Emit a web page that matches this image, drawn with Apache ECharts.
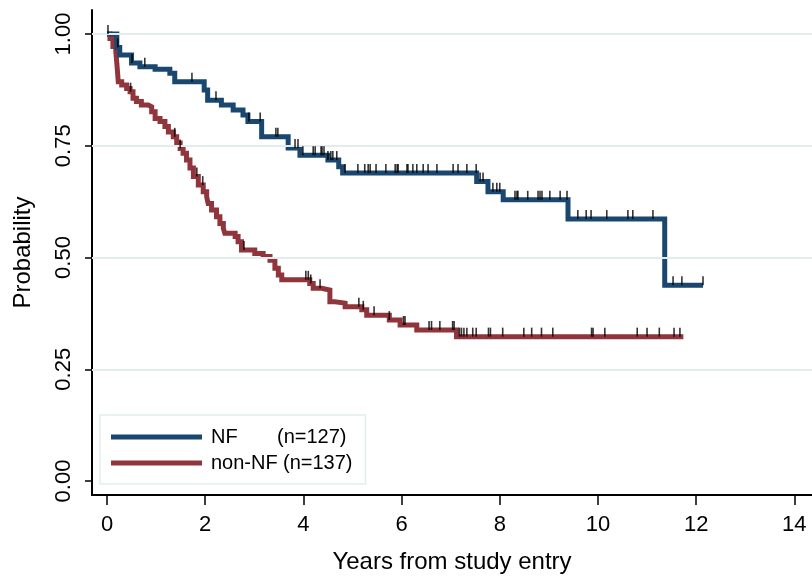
<!DOCTYPE html>
<html>
<head>
<meta charset="utf-8">
<script src="https://cdn.jsdelivr.net/npm/echarts@6/dist/echarts.min.js"></script>
<style>
html,body{margin:0;padding:0;background:#fff;}
#c{width:812px;height:579px;}
</style>
</head>
<body>
<div id="c"></div>
<script>
// ---- data ----
const seriesNames = ['NF', 'non-NF'];
const seriesCounts = ['(n=127)', '(n=137)'];

// Kaplan-Meier steps: time (years) and survival probability after the step
const nfTimes = [0, 0.2, 0.26, 0.5, 0.67, 0.98, 1.28, 1.38, 1.98, 2.05, 2.33, 2.57, 2.77, 2.87, 3.15, 3.69, 3.93, 4.5, 4.72, 4.8, 7.53, 7.76, 8.07, 9.39, 11.36, 12.14];
const nfSurv  = [1.0, 0.97, 0.953, 0.935, 0.927, 0.921, 0.912, 0.893, 0.875, 0.852, 0.841, 0.83, 0.819, 0.804, 0.77, 0.745, 0.729, 0.718, 0.703, 0.689, 0.67, 0.647, 0.629, 0.586, 0.438, 0.438];

const nonNfTimes = [0, 0.06, 0.12, 0.18, 0.2, 0.23, 0.3, 0.4, 0.47, 0.53, 0.6, 0.7, 0.84, 0.91, 0.98, 1.08, 1.18, 1.25, 1.35, 1.42, 1.49, 1.55, 1.62, 1.69, 1.76, 1.86, 1.96, 2.03, 2.06, 2.13, 2.23, 2.3, 2.37, 2.4, 2.61, 2.67, 2.74, 3.01, 3.18, 3.32, 3.42, 3.49, 3.56, 4.13, 4.2, 4.37, 4.54, 4.64, 4.85, 5.19, 5.29, 5.75, 5.97, 6.31, 7.12, 11.74];
const nonNfSurv  = [1.0, 0.99, 0.972, 0.96, 0.935, 0.893, 0.886, 0.878, 0.871, 0.856, 0.849, 0.841, 0.837, 0.826, 0.811, 0.804, 0.793, 0.781, 0.77, 0.756, 0.744, 0.733, 0.718, 0.70, 0.681, 0.662, 0.647, 0.636, 0.621, 0.606, 0.591, 0.576, 0.565, 0.554, 0.547, 0.535, 0.517, 0.509, 0.502, 0.494, 0.476, 0.461, 0.45, 0.442, 0.431, 0.427, 0.401, 0.398, 0.39, 0.383, 0.371, 0.36, 0.349, 0.338, 0.323, 0.323];

// censoring times
const nfCensor = [0.02, 0.22, 0.51, 0.77, 1.73, 2.22, 2.89, 3.12, 3.44, 3.48, 3.83, 3.89, 3.99, 4.2, 4.24, 4.36, 4.38, 4.42, 4.5, 4.56, 4.6, 4.68, 4.85, 5.11, 5.25, 5.32, 5.36, 5.48, 5.68, 5.87, 5.91, 5.93, 6.11, 6.13, 6.23, 6.31, 6.44, 6.54, 6.72, 7.05, 7.15, 7.33, 7.52, 7.6, 7.66, 7.86, 7.94, 8.0, 8.31, 8.35, 8.37, 8.57, 8.78, 8.82, 8.86, 9.02, 9.23, 9.37, 9.59, 9.76, 9.86, 10.18, 10.61, 10.71, 11.12, 11.53, 11.71, 12.14];
const nonNfCensor = [0.48, 1.38, 1.49, 1.83, 1.95, 2.79, 4.05, 4.1, 4.15, 4.34, 5.13, 5.22, 5.44, 5.75, 6.04, 6.07, 6.56, 6.61, 6.78, 7.04, 7.07, 7.18, 7.22, 7.27, 7.33, 7.45, 7.52, 7.77, 7.81, 8.06, 8.49, 8.65, 8.85, 9.08, 9.87, 9.9, 10.14, 10.8, 11.0, 11.25, 11.55, 11.67];

// axis ticks
const xTicks = [0, 2, 4, 6, 8, 10, 12, 14];
const yTicks = [0, 0.25, 0.5, 0.75, 1.0];
const yTickLabels = ['0.00', '0.25', '0.50', '0.75', '1.00'];
const yGridValues = [0.25, 0.5, 0.75, 1.0];

// ---- build ----
function pairs(t, s) { return t.map((v, i) => [v, s[i]]); }
function survAt(t, s, x) {
  let v = s[0];
  for (let i = 0; i < t.length; i++) { if (t[i] <= x) v = s[i]; }
  return v;
}
function censorPts(ct, t, s) { return ct.map(x => [x, survAt(t, s, x)]); }

const FONT = "'Liberation Sans', Arial, sans-serif";
const colors = ['#1a476f', '#90353b'];

const chart = echarts.init(document.getElementById('c'), null, {renderer: 'canvas'});
chart.setOption({
  animation: false,
  backgroundColor: '#ffffff',
  grid: {left: 92, right: 0, top: 10, bottom: 84, containLabel: false, outerBoundsMode: 'none'},
  xAxis: {
    type: 'value',
    min: -0.3055,
    max: 14.36,
    name: 'Years from study entry',
    nameLocation: 'middle',
    nameGap: 55,
    nameTextStyle: {fontFamily: FONT, fontSize: 24, color: '#000'},
    axisLine: {show: true, onZero: false, lineStyle: {color: '#000', width: 2}},
    axisTick: {show: true, length: 10, customValues: xTicks, lineStyle: {color: '#000', width: 1.5}},
    axisLabel: {show: true, customValues: xTicks, margin: 19, fontFamily: FONT, fontSize: 22, color: '#000'},
    splitLine: {show: false}
  },
  yAxis: {
    type: 'value',
    min: -0.0313,
    max: 1.0537,
    name: 'Probability',
    nameLocation: 'middle',
    nameRotate: 90,
    nameGap: 57,
    nameTextStyle: {fontFamily: FONT, fontSize: 24, color: '#000'},
    axisLine: {show: true, onZero: false, lineStyle: {color: '#000', width: 2}},
    axisTick: {show: true, length: 7, customValues: yTicks, lineStyle: {color: '#000', width: 1.5}},
    axisLabel: {
      show: true, customValues: yTicks, rotate: 90, margin: 17,
      fontFamily: FONT, fontSize: 22, color: '#000',
      formatter: v => yTickLabels[yTicks.findIndex(y => Math.abs(y - v) < 1e-6)]
    },
    splitLine: {show: false}
  },
  legend: {
    orient: 'vertical',
    left: 100,
    top: 415,
    data: seriesNames,
    icon: 'rect',
    itemWidth: 91,
    itemHeight: 5,
    itemGap: 6,
    padding: [12, 13, 11, 11],
    borderColor: '#e4eded',
    borderWidth: 1.5,
    backgroundColor: '#fff',
    selectedMode: false,
    textStyle: {
      fontFamily: FONT, fontSize: 20, color: '#000', padding: [0, 0, 0, 4],
      rich: {
        a1: {fontFamily: FONT, fontSize: 20, color: '#000', width: 66},
        a2: {fontFamily: FONT, fontSize: 20, color: '#000', width: 72},
        b: {fontFamily: FONT, fontSize: 20, color: '#000'}
      }
    },
    formatter: name => {
      const i = seriesNames.indexOf(name);
      return '{a' + (i + 1) + '|' + name + '}{b|' + seriesCounts[i] + '}';
    }
  },
  series: [
    {
      type: 'line', name: '__grid', data: [], z: 0, silent: true,
      markLine: {
        silent: true, symbol: 'none', animation: false,
        label: {show: false},
        lineStyle: {color: '#e2ecec', width: 2, type: 'solid'},
        data: yGridValues.map(v => ({yAxis: v}))
      }
    },
    {
      type: 'line', name: seriesNames[0], step: 'end', showSymbol: false, symbol: 'none',
      data: pairs(nfTimes, nfSurv), color: colors[0], z: 3,
      lineStyle: {color: colors[0], width: 5, cap: 'butt', join: 'miter'}
    },
    {
      type: 'line', name: seriesNames[1], step: 'end', showSymbol: false, symbol: 'none',
      data: pairs(nonNfTimes, nonNfSurv), color: colors[1], z: 2,
      lineStyle: {color: colors[1], width: 5, cap: 'butt', join: 'miter'}
    },
    {
      type: 'scatter', name: 'NF censored', data: censorPts(nfCensor, nfTimes, nfSurv),
      symbol: 'rect', symbolSize: [1.6, 9], symbolOffset: [0, -4.5], z: 5, silent: true,
      itemStyle: {color: '#000'}
    },
    {
      type: 'scatter', name: 'non-NF censored', data: censorPts(nonNfCensor, nonNfTimes, nonNfSurv),
      symbol: 'rect', symbolSize: [1.6, 9], symbolOffset: [0, -4.5], z: 5, silent: true,
      itemStyle: {color: '#000'}
    }
  ]
});
</script>
</body>
</html>
